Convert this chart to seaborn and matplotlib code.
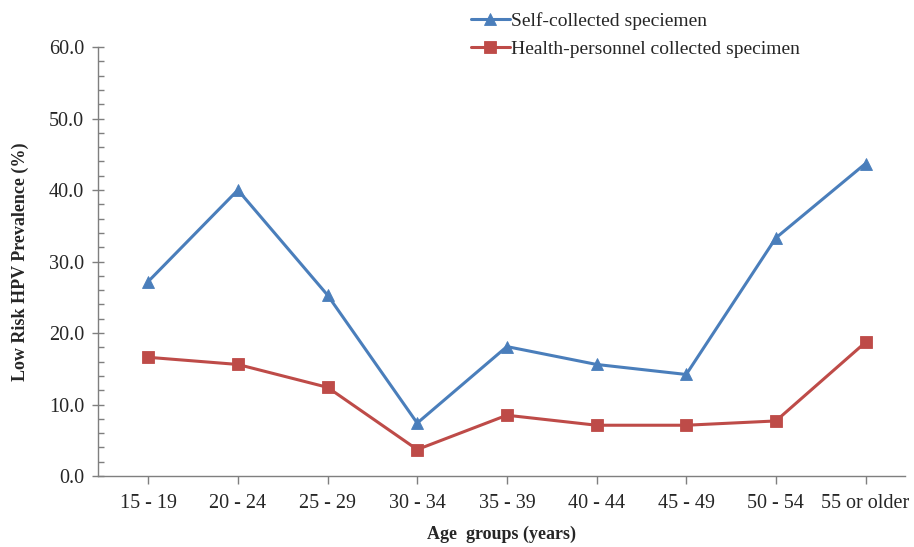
import matplotlib
matplotlib.use("Agg")
import matplotlib.pyplot as plt
from matplotlib.ticker import MultipleLocator, FormatStrFormatter
import seaborn as sns
import pandas as pd

age_groups = ["15 - 19", "20 - 24", "25 - 29", "30 - 34", "35 - 39",
              "40 - 44", "45 - 49", "50 - 54", "55 or older"]
self_collected = [27.2, 40.0, 25.3, 7.4, 18.1, 15.6, 14.2, 33.3, 43.7]
health_collected = [16.6, 15.6, 12.4, 3.7, 8.5, 7.1, 7.1, 7.7, 18.7]
series_names = ["Self-collected speciemen", "Health-personnel collected specimen"]

sns.set_theme(style="white")
plt.rcParams["font.family"] = ["Liberation Serif", "DejaVu Serif"]

df = pd.DataFrame({
    "x": list(range(len(age_groups))) * 2,
    "value": self_collected + health_collected,
    "series": [series_names[0]] * len(age_groups) + [series_names[1]] * len(age_groups),
})

fig = plt.figure(figsize=(9.14, 5.47), dpi=100)
ax = fig.add_axes([98 / 914, 1 - 476 / 547, (905 - 98) / 914, (476 - 47) / 547])

palette = {series_names[0]: "#4A7EBB", series_names[1]: "#BE4B48"}
markers = {series_names[0]: "^", series_names[1]: "s"}
sns.lineplot(data=df, x="x", y="value", hue="series", style="series",
             palette=palette, markers=markers, dashes=False, markersize=9,
             linewidth=2.2, markeredgewidth=0.6, ax=ax, legend=True)

for line, name in zip(ax.get_lines(), series_names):
    line.set_markeredgecolor(palette[name])

ax.set_xlim(-0.56, 8.44)
ax.set_ylim(0, 60)
ax.yaxis.set_major_locator(MultipleLocator(10))
ax.yaxis.set_minor_locator(MultipleLocator(2))
ax.yaxis.set_major_formatter(FormatStrFormatter("%.1f"))
ax.set_xticks(range(len(age_groups)))
ax.set_xticklabels(age_groups)

spine_color = "#7F7F7F"
for s in ["top", "right"]:
    ax.spines[s].set_visible(False)
for s in ["left", "bottom"]:
    ax.spines[s].set_color(spine_color)
    ax.spines[s].set_linewidth(1.0)

ax.tick_params(axis="y", which="major", direction="inout", length=8, width=1,
               color=spine_color, labelsize=14.5, pad=6, left=True)
ax.tick_params(axis="y", which="minor", direction="in", length=4, width=1,
               color=spine_color, left=True)
ax.tick_params(axis="x", which="major", direction="out", length=6, width=1,
               color=spine_color, labelsize=14.5, pad=7, bottom=True)

ax.set_xlabel("Age  groups (years)", fontsize=13, fontweight="bold", labelpad=9)
ax.set_ylabel("Low Risk HPV Prevalence (%)", fontsize=13, fontweight="bold", labelpad=14)

ax.get_legend().remove()
handles = ax.get_lines()[:2]
fig.legend(handles, series_names, loc="upper left",
           bbox_to_anchor=(459 / 914, 1 - 0 / 547), frameon=False,
           fontsize=14, handlelength=2.0, handletextpad=0.1, labelspacing=0.55,
           borderaxespad=0.2)

fig.savefig("out.png", dpi=100)
